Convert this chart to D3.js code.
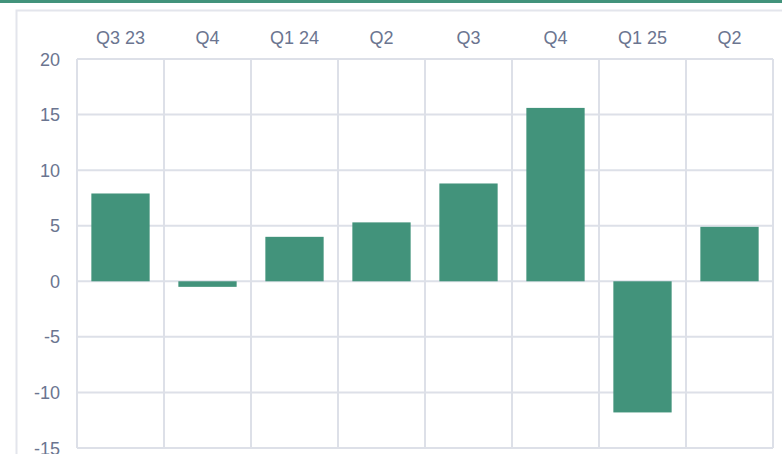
<!DOCTYPE html>
<html>
<head>
<meta charset="utf-8">
<script src="https://cdn.jsdelivr.net/npm/d3@7"></script>
<style>
  body { margin: 0; background: #fff; }
  svg { display: block; font-family: "Liberation Sans", Arial, sans-serif; }
</style>
</head>
<body>
<svg id="chart"></svg>
<script>
// quarter labels and values
const quarters = ["Q3 23", "Q4", "Q1 24", "Q2", "Q3", "Q4", "Q1 25", "Q2"]
const values = [7.9, -0.5, 4.0, 5.3, 8.8, 15.6, -11.8, 4.9]
const yTicks = [20, 15, 10, 5, 0, -5, -10, -15]

const W = 782, H = 454
const margin = {top: 59, right: 9, bottom: 6, left: 77}
const width = W - margin.left - margin.right,
  height = H - margin.top - margin.bottom

const svg = d3.select("#chart").attr("width", W).attr("height", H)

// green strip on top + card border
svg.append("rect").attr("x", 0).attr("y", 0).attr("width", W).attr("height", 3).attr("fill", "#42937b")
svg.append("path")
  .attr("d", "M16.5," + H + "V10.5H" + W)
  .attr("fill", "none").attr("stroke", "#e3e5ec").attr("stroke-width", 2)

const g = svg.append("g").attr("transform", "translate(" + margin.left + "," + margin.top + ")")

// x scale with band per quarter (use index so repeated labels stay apart)
const x = d3.scaleBand().domain(d3.range(quarters.length)).range([0, width]).paddingInner(0).paddingOuter(0)
const y = d3.scaleLinear().domain([-15, 20]).range([height, 0])

const grid = "#dde0e8"

// horizontal grid lines
g.append("g")
  .selectAll("line")
  .data(yTicks)
  .enter().append("line")
  .attr("x1", 0).attr("x2", width)
  .attr("y1", d => y(d)).attr("y2", d => y(d))
  .attr("stroke", grid).attr("stroke-width", 2)

// vertical lines at band edges
g.append("g")
  .selectAll("line")
  .data(d3.range(quarters.length + 1))
  .enter().append("line")
  .attr("x1", d => d * x.step()).attr("x2", d => d * x.step())
  .attr("y1", 0).attr("y2", height)
  .attr("stroke", grid).attr("stroke-width", 2)

// bars
const barPad = x.bandwidth() * 0.165
g.append("g")
  .selectAll("rect")
  .data(values)
  .enter().append("rect")
  .attr("x", (d, i) => x(i) + barPad)
  .attr("width", x.bandwidth() - 2 * barPad)
  .attr("y", d => y(Math.max(0, d)))
  .attr("height", d => Math.abs(y(d) - y(0)))
  .attr("fill", "#42937b")

// top labels
g.append("g")
  .selectAll("text")
  .data(quarters)
  .enter().append("text")
  .text(d => d)
  .attr("x", (d, i) => x(i) + x.bandwidth() / 2)
  .attr("y", -15.5)
  .attr("text-anchor", "middle")
  .attr("font-size", 18)
  .attr("fill", "#6b7590")

// y labels
g.append("g")
  .selectAll("text")
  .data(yTicks)
  .enter().append("text")
  .text(d => d)
  .attr("x", -17)
  .attr("y", d => y(d) + 6.5)
  .attr("text-anchor", "end")
  .attr("font-size", 18)
  .attr("fill", "#6b7590")
</script>
</body>
</html>
